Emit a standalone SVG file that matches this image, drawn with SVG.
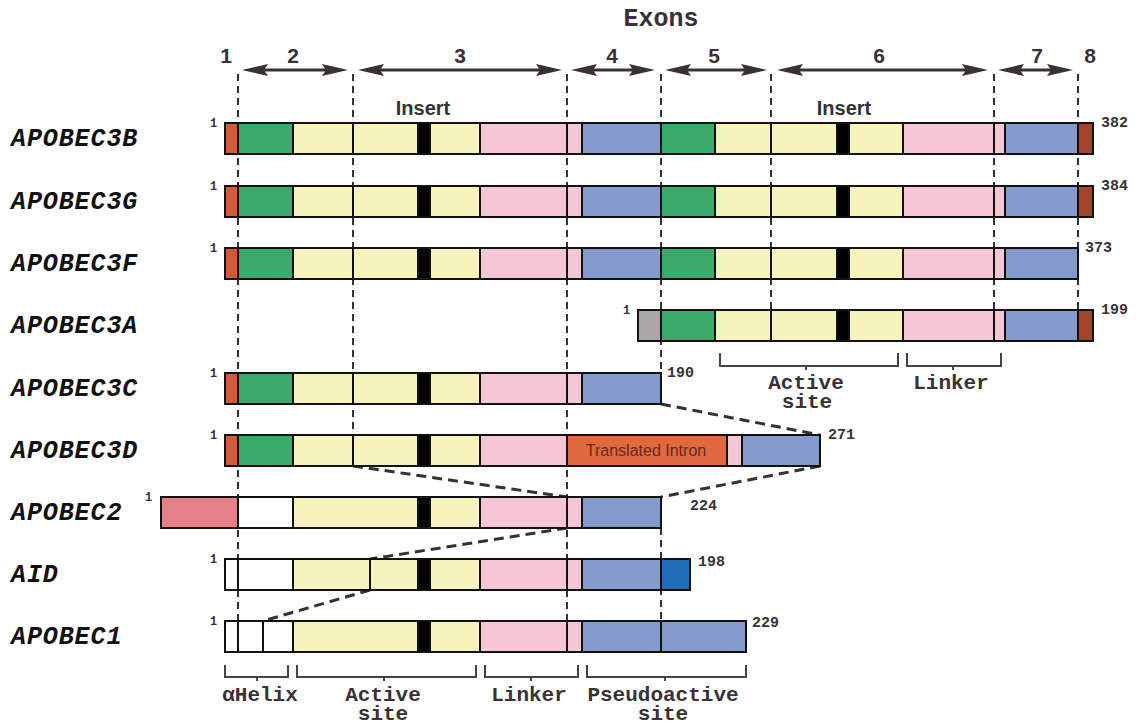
<svg xmlns="http://www.w3.org/2000/svg" width="1141" height="725" viewBox="0 0 1141 725">
  <style>
    .seg { stroke: #111; stroke-width: 2; }
    .red { fill: #d4583b; }
    .grn { fill: #39aa6b; }
    .yel { fill: #f7f3bc; }
    .pnk { fill: #f5c7d5; }
    .blu { fill: #8499cc; }
    .brn { fill: #a2452b; }
    .gry { fill: #a9a7a7; }
    .wht { fill: #ffffff; }
    .blk { fill: #000000; }
    .ros { fill: #e57f89; }
    .dbl { fill: #1f6cb6; }
    .org { fill: #e1693f; }
    .name { font-family: "Liberation Mono", "Courier New", monospace; font-weight: bold; font-style: italic; font-size: 25px; letter-spacing: 0.9px; fill: #111; }
    .mono { font-family: "Liberation Mono", "Courier New", monospace; font-weight: bold; fill: #3b3035; }
    .one { font-size: 12px; }
    .len { font-size: 15px; }
    .lab { font-size: 21px; text-anchor: middle; }
    .exon { font-family: "Liberation Sans", Arial, sans-serif; font-weight: bold; font-size: 21px; fill: #3b3035; text-anchor: middle; }
    .ins { font-family: "Liberation Sans", Arial, sans-serif; font-weight: bold; font-size: 20px; fill: #333; text-anchor: middle; }
    .guide { stroke: #333; stroke-width: 2; stroke-dasharray: 7 5; fill: none; }
    .link { stroke: #333; stroke-width: 3; stroke-dasharray: 10 6; fill: none; }
    .span { stroke: #3b3035; stroke-width: 3; fill: none; marker-start: url(#tip); marker-end: url(#tip); }
    .brk { stroke: #444; stroke-width: 2; fill: none; }
  </style>
  <defs>
    <marker id="tip" viewBox="0 0 26 12" refX="6" refY="6" markerWidth="26" markerHeight="12" markerUnits="userSpaceOnUse" orient="auto-start-reverse">
      <path d="M0,0 L26,6 L0,12 L4,6 z" fill="#3b3035"/>
    </marker>
  </defs>

  <!-- exon ruler -->
  <g id="ruler">
    <text class="mono" x="661" y="26" font-size="25" text-anchor="middle">Exons</text>
    <text class="exon" x="226" y="63">1</text>
    <text class="exon" x="293" y="63">2</text>
    <text class="exon" x="460" y="63">3</text>
    <text class="exon" x="612" y="63">4</text>
    <text class="exon" x="714" y="63">5</text>
    <text class="exon" x="879" y="63">6</text>
    <text class="exon" x="1037" y="63">7</text>
    <text class="exon" x="1090" y="63">8</text>
    <path class="span" d="M262 70 H328"/>
    <path class="span" d="M378 70 H542"/>
    <path class="span" d="M591 70 H635"/>
    <path class="span" d="M685 70 H747"/>
    <path class="span" d="M797 70 H968"/>
    <path class="span" d="M1018 70 H1053"/>
    <text class="ins" x="423" y="115">Insert</text>
    <text class="ins" x="844" y="115">Insert</text>
  </g>

  <!-- exon boundary guides and alignment links -->
  <g id="connectors">
    <path class="guide" d="M238 74 V621"/>
    <path class="guide" d="M353 74 V435"/>
    <path class="guide" d="M567 74 V621"/>
    <path class="guide" d="M661 74 V373 M661 528 V621"/>
    <path class="guide" d="M771 74 V310"/>
    <path class="guide" d="M994 74 V310"/>
    <path class="guide" d="M1078 74 V310"/>
    <path class="link" d="M661 404 L820 435"/>
    <path class="link" d="M820 466 L661 497"/>
    <path class="link" d="M353 466 L567 497"/>
    <path class="link" d="M567 528 L370 559"/>
    <path class="link" d="M370 590 L263 621"/>
  </g>

  <!-- APOBEC3B -->
  <g id="apobec3b">
    <text class="name" x="11" y="146">APOBEC3B</text>
    <text class="mono one" x="210" y="127">1</text>
    <g class="seg">
      <rect class="red" x="225" y="123" width="13" height="31"/>
      <rect class="grn" x="238" y="123" width="55" height="31"/>
      <rect class="yel" x="293" y="123" width="60" height="31"/>
      <rect class="yel" x="353" y="123" width="65" height="31"/>
      <rect class="blk" x="418" y="123" width="12" height="31"/>
      <rect class="yel" x="430" y="123" width="50" height="31"/>
      <rect class="pnk" x="480" y="123" width="87" height="31"/>
      <rect class="pnk" x="567" y="123" width="15" height="31"/>
      <rect class="blu" x="582" y="123" width="79" height="31"/>
      <rect class="grn" x="661" y="123" width="54" height="31"/>
      <rect class="yel" x="715" y="123" width="56" height="31"/>
      <rect class="yel" x="771" y="123" width="66" height="31"/>
      <rect class="blk" x="837" y="123" width="12" height="31"/>
      <rect class="yel" x="849" y="123" width="54" height="31"/>
      <rect class="pnk" x="903" y="123" width="91" height="31"/>
      <rect class="pnk" x="994" y="123" width="11" height="31"/>
      <rect class="blu" x="1005" y="123" width="73" height="31"/>
      <rect class="brn" x="1078" y="123" width="15" height="31"/>
    </g>
    <text class="mono len" x="1101" y="127">382</text>
  </g>

  <!-- APOBEC3G -->
  <g id="apobec3g">
    <text class="name" x="11" y="209">APOBEC3G</text>
    <text class="mono one" x="210" y="190">1</text>
    <g class="seg">
      <rect class="red" x="225" y="186" width="13" height="31"/>
      <rect class="grn" x="238" y="186" width="55" height="31"/>
      <rect class="yel" x="293" y="186" width="60" height="31"/>
      <rect class="yel" x="353" y="186" width="65" height="31"/>
      <rect class="blk" x="418" y="186" width="12" height="31"/>
      <rect class="yel" x="430" y="186" width="50" height="31"/>
      <rect class="pnk" x="480" y="186" width="87" height="31"/>
      <rect class="pnk" x="567" y="186" width="15" height="31"/>
      <rect class="blu" x="582" y="186" width="79" height="31"/>
      <rect class="grn" x="661" y="186" width="54" height="31"/>
      <rect class="yel" x="715" y="186" width="56" height="31"/>
      <rect class="yel" x="771" y="186" width="66" height="31"/>
      <rect class="blk" x="837" y="186" width="12" height="31"/>
      <rect class="yel" x="849" y="186" width="54" height="31"/>
      <rect class="pnk" x="903" y="186" width="91" height="31"/>
      <rect class="pnk" x="994" y="186" width="11" height="31"/>
      <rect class="blu" x="1005" y="186" width="73" height="31"/>
      <rect class="brn" x="1078" y="186" width="15" height="31"/>
    </g>
    <text class="mono len" x="1101" y="190">384</text>
  </g>

  <!-- APOBEC3F -->
  <g id="apobec3f">
    <text class="name" x="11" y="271">APOBEC3F</text>
    <text class="mono one" x="210" y="252">1</text>
    <g class="seg">
      <rect class="red" x="225" y="248" width="13" height="31"/>
      <rect class="grn" x="238" y="248" width="55" height="31"/>
      <rect class="yel" x="293" y="248" width="60" height="31"/>
      <rect class="yel" x="353" y="248" width="65" height="31"/>
      <rect class="blk" x="418" y="248" width="12" height="31"/>
      <rect class="yel" x="430" y="248" width="50" height="31"/>
      <rect class="pnk" x="480" y="248" width="87" height="31"/>
      <rect class="pnk" x="567" y="248" width="15" height="31"/>
      <rect class="blu" x="582" y="248" width="79" height="31"/>
      <rect class="grn" x="661" y="248" width="54" height="31"/>
      <rect class="yel" x="715" y="248" width="56" height="31"/>
      <rect class="yel" x="771" y="248" width="66" height="31"/>
      <rect class="blk" x="837" y="248" width="12" height="31"/>
      <rect class="yel" x="849" y="248" width="54" height="31"/>
      <rect class="pnk" x="903" y="248" width="91" height="31"/>
      <rect class="pnk" x="994" y="248" width="11" height="31"/>
      <rect class="blu" x="1005" y="248" width="73" height="31"/>
    </g>
    <text class="mono len" x="1085" y="252">373</text>
  </g>

  <!-- APOBEC3A -->
  <g id="apobec3a">
    <text class="name" x="11" y="333">APOBEC3A</text>
    <text class="mono one" x="623" y="314">1</text>
    <g class="seg">
      <rect class="gry" x="638" y="310" width="23" height="31"/>
      <rect class="grn" x="661" y="310" width="54" height="31"/>
      <rect class="yel" x="715" y="310" width="56" height="31"/>
      <rect class="yel" x="771" y="310" width="66" height="31"/>
      <rect class="blk" x="837" y="310" width="12" height="31"/>
      <rect class="yel" x="849" y="310" width="54" height="31"/>
      <rect class="pnk" x="903" y="310" width="91" height="31"/>
      <rect class="pnk" x="994" y="310" width="11" height="31"/>
      <rect class="blu" x="1005" y="310" width="73" height="31"/>
      <rect class="brn" x="1078" y="310" width="15" height="31"/>
    </g>
    <text class="mono len" x="1101" y="314">199</text>
    <path class="brk" d="M720 353 V366 H898 V353 M806 366 V370"/>
    <path class="brk" d="M907 353 V366 H1001 V353 M953 366 V370"/>
    <text class="mono lab" x="806" y="389">Active</text>
    <text class="mono lab" x="807" y="408">site</text>
    <text class="mono lab" x="951" y="389">Linker</text>
  </g>

  <!-- APOBEC3C -->
  <g id="apobec3c">
    <text class="name" x="11" y="396">APOBEC3C</text>
    <text class="mono one" x="210" y="377">1</text>
    <g class="seg">
      <rect class="red" x="225" y="373" width="13" height="31"/>
      <rect class="grn" x="238" y="373" width="55" height="31"/>
      <rect class="yel" x="293" y="373" width="60" height="31"/>
      <rect class="yel" x="353" y="373" width="65" height="31"/>
      <rect class="blk" x="418" y="373" width="12" height="31"/>
      <rect class="yel" x="430" y="373" width="50" height="31"/>
      <rect class="pnk" x="480" y="373" width="87" height="31"/>
      <rect class="pnk" x="567" y="373" width="15" height="31"/>
      <rect class="blu" x="582" y="373" width="79" height="31"/>
    </g>
    <text class="mono len" x="667" y="377">190</text>
  </g>

  <!-- APOBEC3D -->
  <g id="apobec3d">
    <text class="name" x="11" y="458">APOBEC3D</text>
    <text class="mono one" x="210" y="439">1</text>
    <g class="seg">
      <rect class="red" x="225" y="435" width="13" height="31"/>
      <rect class="grn" x="238" y="435" width="55" height="31"/>
      <rect class="yel" x="293" y="435" width="60" height="31"/>
      <rect class="yel" x="353" y="435" width="65" height="31"/>
      <rect class="blk" x="418" y="435" width="12" height="31"/>
      <rect class="yel" x="430" y="435" width="50" height="31"/>
      <rect class="pnk" x="480" y="435" width="87" height="31"/>
      <rect class="org" x="567" y="435" width="160" height="31"/>
      <rect class="pnk" x="727" y="435" width="15" height="31"/>
      <rect class="blu" x="742" y="435" width="78" height="31"/>
    </g>
    <text x="646" y="456" font-family="'Liberation Sans', Arial, sans-serif" font-size="16" fill="#6a2a1c" text-anchor="middle">Translated Intron</text>
    <text class="mono len" x="828" y="439">271</text>
  </g>

  <!-- APOBEC2 -->
  <g id="apobec2">
    <text class="name" x="11" y="520">APOBEC2</text>
    <text class="mono one" x="145" y="501">1</text>
    <g class="seg">
      <rect class="ros" x="161" y="497" width="77" height="31"/>
      <rect class="wht" x="238" y="497" width="55" height="31"/>
      <rect class="yel" x="293" y="497" width="125" height="31"/>
      <rect class="blk" x="418" y="497" width="12" height="31"/>
      <rect class="yel" x="430" y="497" width="50" height="31"/>
      <rect class="pnk" x="480" y="497" width="87" height="31"/>
      <rect class="pnk" x="567" y="497" width="15" height="31"/>
      <rect class="blu" x="582" y="497" width="79" height="31"/>
    </g>
    <text class="mono len" x="690" y="510">224</text>
  </g>

  <!-- AID -->
  <g id="aid">
    <text class="name" x="11" y="582">AID</text>
    <text class="mono one" x="210" y="563">1</text>
    <g class="seg">
      <rect class="wht" x="225" y="559" width="13" height="31"/>
      <rect class="wht" x="238" y="559" width="55" height="31"/>
      <rect class="yel" x="293" y="559" width="77" height="31"/>
      <rect class="yel" x="370" y="559" width="48" height="31"/>
      <rect class="blk" x="418" y="559" width="12" height="31"/>
      <rect class="yel" x="430" y="559" width="50" height="31"/>
      <rect class="pnk" x="480" y="559" width="87" height="31"/>
      <rect class="pnk" x="567" y="559" width="15" height="31"/>
      <rect class="blu" x="582" y="559" width="79" height="31"/>
      <rect class="dbl" x="661" y="559" width="29" height="31"/>
    </g>
    <text class="mono len" x="698" y="566">198</text>
  </g>

  <!-- APOBEC1 -->
  <g id="apobec1">
    <text class="name" x="11" y="644">APOBEC1</text>
    <text class="mono one" x="210" y="625">1</text>
    <g class="seg">
      <rect class="wht" x="225" y="621" width="13" height="31"/>
      <rect class="wht" x="238" y="621" width="25" height="31"/>
      <rect class="wht" x="263" y="621" width="30" height="31"/>
      <rect class="yel" x="293" y="621" width="125" height="31"/>
      <rect class="blk" x="418" y="621" width="12" height="31"/>
      <rect class="yel" x="430" y="621" width="50" height="31"/>
      <rect class="pnk" x="480" y="621" width="87" height="31"/>
      <rect class="pnk" x="567" y="621" width="15" height="31"/>
      <rect class="blu" x="582" y="621" width="79" height="31"/>
      <rect class="blu" x="661" y="621" width="85" height="31"/>
    </g>
    <text class="mono len" x="752" y="627">229</text>
  </g>

  <!-- domain brackets -->
  <g id="domains">
    <path class="brk" d="M225 665 V677 H288 V665 M257 677 V681"/>
    <path class="brk" d="M297 665 V677 H476 V665 M384 677 V681"/>
    <path class="brk" d="M485 665 V677 H578 V665 M531 677 V681"/>
    <path class="brk" d="M587 665 V677 H746 V665 M665 677 V681"/>
    <text class="mono lab" x="260" y="701">αHelix</text>
    <text class="mono lab" x="383" y="701">Active</text>
    <text class="mono lab" x="383" y="720">site</text>
    <text class="mono lab" x="529" y="701">Linker</text>
    <text class="mono lab" x="663" y="701">Pseudoactive</text>
    <text class="mono lab" x="663" y="720">site</text>
  </g>
</svg>
